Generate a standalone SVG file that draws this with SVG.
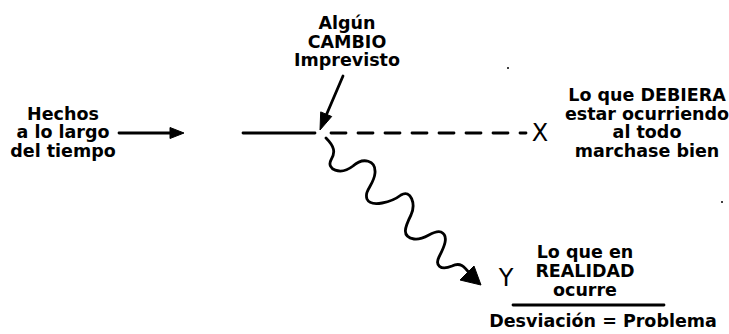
<svg xmlns="http://www.w3.org/2000/svg" width="729" height="334" viewBox="0 0 729 334">
<defs>
<style>
.t{font-family:"DejaVu Sans","Liberation Sans",sans-serif;font-weight:bold;font-size:17.5px;fill:#000;text-anchor:middle}
.l{font-family:"DejaVu Sans","Liberation Sans",sans-serif;font-weight:normal;font-size:24px;fill:#000;text-anchor:middle}
.ln{stroke:#000;stroke-width:2.8;fill:none;stroke-linecap:round}
.hd{fill:#000;stroke:#000;stroke-width:1;stroke-linejoin:round}
</style>
</defs>
<rect width="729" height="334" fill="#fff"/>
<g id="cambio">
<text class="t" x="347" y="29">Algún</text>
<text class="t" x="347" y="47.5">CAMBIO</text>
<text class="t" x="347" y="66">Imprevisto</text>
</g>
<g id="hechos">
<text class="t" x="63" y="119.5">Hechos</text>
<text class="t" x="63" y="138">a lo largo</text>
<text class="t" x="63" y="156.5">del tiempo</text>
</g>
<g id="debiera">
<text class="t" x="647" y="101">Lo que DEBIERA</text>
<text class="t" x="647" y="119.5">estar ocurriendo</text>
<text class="t" x="647" y="138">al todo</text>
<text class="t" x="647" y="156.5">marchase bien</text>
<text class="l" x="540" y="141">X</text>
</g>
<g id="realidad">
<text class="l" x="506" y="286">Y</text>
<text class="t" x="585" y="258">Lo que en</text>
<text class="t" x="585" y="277">REALIDAD</text>
<text class="t" x="585" y="296">ocurre</text>
<line class="ln" x1="513" y1="305" x2="664" y2="305" stroke-width="2.2"/>
<text class="t" x="603" y="327">Desviación = Problema</text>
</g>
<g id="connectors">
<line class="ln" x1="119" y1="133" x2="172" y2="133"/>
<polygon class="hd" points="184,133 170,127.5 170,138.5"/>
<line class="ln" x1="243" y1="133" x2="315" y2="133"/>
<line class="ln" x1="331" y1="133" x2="526" y2="133" stroke-dasharray="15 12" stroke-linecap="butt" stroke-width="2.4"/>
<line class="ln" x1="343" y1="76" x2="325" y2="118"/>
<polygon class="hd" points="320,130 331.7,116.5 320.7,111.9"/>
<path class="ln" stroke-width="4.5" d="M326,138 C334,146 336,152 331,160 C326,169 340,176 353,166 C363,157 376,160 375,173 C374,185 364,190 367,199 C371,208 392,202 401,195 C411,189 416,204 411,215 C405,227 401,237 414,239 C425,241 433,229 441,232 C450,236 443,249 439,257 C435,265 440,271 452,266 C460,262 464,266 470,274"/>
<polygon class="hd" points="481,285 460,280 474,266"/>
<circle cx="508" cy="68" r="1" fill="#000"/>
<circle cx="722" cy="202" r="1" fill="#000"/>
</g>
</svg>
